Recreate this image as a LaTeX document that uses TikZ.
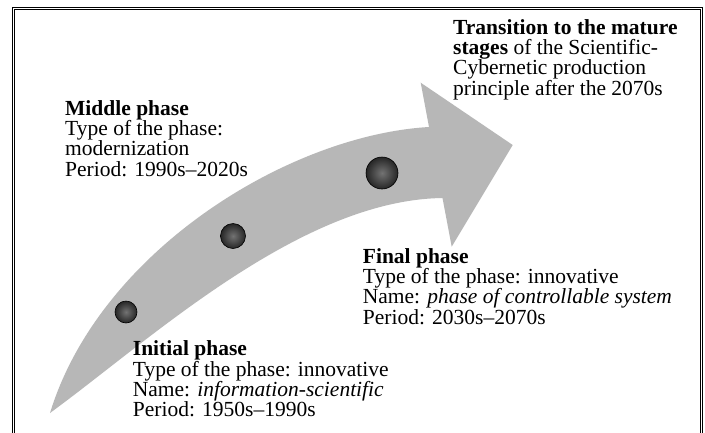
\documentclass[tikz,border=0pt]{standalone}
\usepackage{fontspec}
\setmainfont{Liberation Serif}
\definecolor{arrowgray}{RGB}{183,183,183}

\begin{document}
\begin{tikzpicture}[x=1pt,y=-1pt,
    phase/.style={anchor=base west,align=left,inner sep=0pt,
      font=\fontsize{21.5}{20.3}\selectfont},
    dot/.style={circle,draw=black,line width=0.6pt,inner sep=0pt,
      inner color=black!55,outer color=black!85}]
    \useasboundingbox[fill=white] (0,0) rectangle (705,432);
    % frame
    \draw[line width=0.9pt,double=white,double distance=1.8pt]
      (13.4,8.5) rectangle (701.5,445);
    % curved arrow
    \fill[arrowgray] (50,413) .. controls (100,250) and (290,135) .. (429,127)
      -- (420.7,82.7) -- (512.7,145) -- (451.7,246.7) -- (442.5,198)
      .. controls (300,200) and (150,340) .. (50,413) -- cycle;
    % phase points
    \node[dot,minimum size=22pt] (d_1) at (126,312) {};
    \node[dot,minimum size=25pt] (d_2) at (233,236) {};
    \node[dot,minimum size=32pt] (d_3) at (382,173) {};
    % texts (placed at the baseline of their last line)
    \node[phase] (mature) at (453,95)
      {\textbf{Transition to the mature}\\
       \textbf{stages} of the Scientific-\\
       Cybernetic production\\
       principle after the 2070s};
    \node[phase] (middle) at (65,176)
      {\textbf{Middle phase}\\
       Type of the phase:\\
       modernization\\
       Period: 1990s--2020s};
    \node[phase] (final) at (362.7,324)
      {\textbf{Final phase}\\
       Type of the phase: innovative\\
       Name: \textit{phase of controllable system}\\
       Period: 2030s--2070s};
    \node[phase] (initial) at (132.7,416.7)
      {\textbf{Initial phase}\\
       Type of the phase: innovative\\
       Name: \textit{information-scientific}\\
       Period: 1950s--1990s};
  \end{tikzpicture}
\end{document}
